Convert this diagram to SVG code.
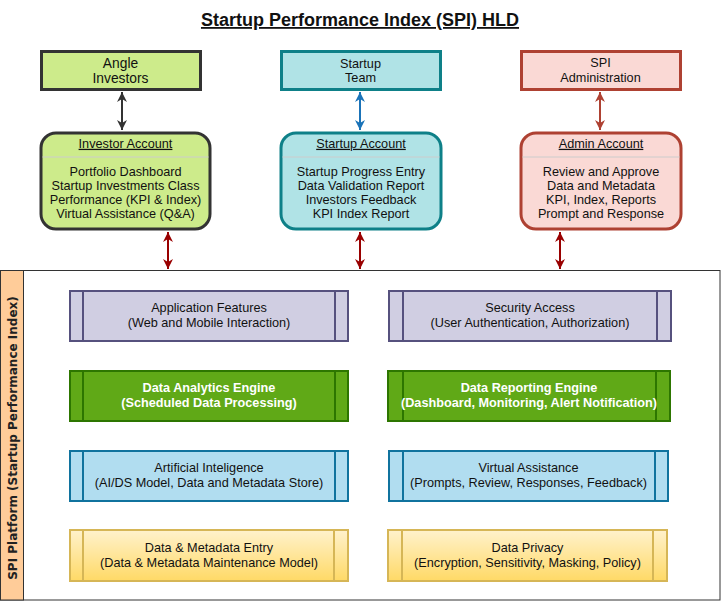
<svg xmlns="http://www.w3.org/2000/svg" width="721" height="601" viewBox="0 0 721 601">
<style>
text{font-family:"Liberation Sans",Arial,sans-serif;font-size:12.7px;fill:#111;text-anchor:middle}
.t13{font-size:13.8px}
.u{text-decoration:underline}
.w{fill:#fff;font-weight:bold}
.title{font-size:18px;font-weight:bold;text-decoration:underline}
.vlab{font-family:"DejaVu Sans",Verdana,sans-serif;font-size:12px;font-weight:bold;fill:#222}
.conn{fill:none;stroke-width:2}
.div{stroke:#cccccc;stroke-width:1}
.proc{stroke-width:2}
</style>
<defs>
<marker id="aDark" viewBox="0 0 10 10" refX="10" refY="5" markerWidth="10" markerHeight="10" markerUnits="userSpaceOnUse" orient="auto-start-reverse"><path d="M0,0 L10,5 L0,10 L3,5 z" fill="#333333"/></marker>
<marker id="aBlue" viewBox="0 0 10 10" refX="10" refY="5" markerWidth="10" markerHeight="10" markerUnits="userSpaceOnUse" orient="auto-start-reverse"><path d="M0,0 L10,5 L0,10 L3,5 z" fill="#1a73b8"/></marker>
<marker id="aRose" viewBox="0 0 10 10" refX="10" refY="5" markerWidth="10" markerHeight="10" markerUnits="userSpaceOnUse" orient="auto-start-reverse"><path d="M0,0 L10,5 L0,10 L3,5 z" fill="#ae4132"/></marker>
<marker id="aRed" viewBox="0 0 10 10" refX="10" refY="5" markerWidth="10" markerHeight="10" markerUnits="userSpaceOnUse" orient="auto-start-reverse"><path d="M0,0 L10,5 L0,10 L3,5 z" fill="#990000"/></marker>
<linearGradient id="gy" x1="0" y1="0" x2="0" y2="1"><stop offset="0" stop-color="#fff2cc"/><stop offset="1" stop-color="#ffd966"/></linearGradient>
</defs>
<rect width="721" height="601" fill="#ffffff"/>
<text class="title" x="360" y="26">Startup Performance Index (SPI) HLD</text>

<g id="platform">
<rect x="0.5" y="270.5" width="719.5" height="329.5" fill="#ffffff" stroke="#333333"/>
<rect x="0.5" y="270.5" width="23" height="329.5" fill="#ffcc99" stroke="#333333"/>
<text class="vlab" transform="translate(16.5,438) rotate(-90)" x="0" y="0">SPI Platform (Startup Performance Index)</text>
</g>

<g id="angle-investors">
<rect x="41.5" y="51.5" width="159" height="38" fill="#cdeb8b" stroke="#333333" stroke-width="3"/>
<text class="t13" x="120.5" y="67.5">Angle</text>
<text class="t13" x="120.5" y="83.2">Investors</text>
</g>
<g id="startup-team">
<rect x="281.5" y="51.5" width="159" height="38" fill="#b0e3e6" stroke="#0e8088" stroke-width="3"/>
<text x="360.5" y="67.8">Startup</text>
<text x="360.5" y="81.8">Team</text>
</g>
<g id="spi-administration">
<rect x="521.5" y="51.5" width="159" height="38" fill="#fad9d5" stroke="#ae4132" stroke-width="3"/>
<text x="600.5" y="67.2">SPI</text>
<text x="600.5" y="82.2">Administration</text>
</g>

<g id="investor-account">
<rect x="41" y="133" width="169" height="96" rx="15" fill="#cdeb8b" stroke="#333333" stroke-width="3"/>
<line class="div" x1="42.5" y1="157" x2="208.5" y2="157"/>
<text class="u" x="125.5" y="147.8">Investor Account</text>
<text x="125.5" y="176">Portfolio Dashboard</text>
<text x="125.5" y="190">Startup Investments Class</text>
<text x="125.5" y="204">Performance (KPI &amp; Index)</text>
<text x="125.5" y="218">Virtual Assistance (Q&amp;A)</text>
</g>
<g id="startup-account">
<rect x="281" y="133" width="160" height="96" rx="15" fill="#b0e3e6" stroke="#0e8088" stroke-width="3"/>
<line class="div" x1="282.5" y1="157" x2="439.5" y2="157"/>
<text class="u" x="361" y="147.8">Startup Account</text>
<text x="361" y="176">Startup Progress Entry</text>
<text x="361" y="190">Data Validation Report</text>
<text x="361" y="204">Investors Feedback</text>
<text x="361" y="218">KPI Index Report</text>
</g>
<g id="admin-account">
<rect x="521" y="133" width="160" height="96" rx="15" fill="#fad9d5" stroke="#ae4132" stroke-width="3"/>
<line class="div" x1="522.5" y1="157" x2="679.5" y2="157"/>
<text class="u" x="601" y="147.8">Admin Account</text>
<text x="601" y="176">Review and Approve</text>
<text x="601" y="190">Data and Metadata</text>
<text x="601" y="204">KPI, Index, Reports</text>
<text x="601" y="218">Prompt and Response</text>
</g>

<g id="application-features">
<rect class="proc" x="70" y="291" width="278" height="50" fill="#d0cee2" stroke="#56517e"/>
<line class="proc" x1="83" y1="291" x2="83" y2="341" stroke="#56517e"/>
<line class="proc" x1="335" y1="291" x2="335" y2="341" stroke="#56517e"/>
<text x="209" y="312">Application Features</text>
<text x="209" y="327">(Web and Mobile Interaction)</text>
</g>
<g id="security-access">
<rect class="proc" x="389" y="291" width="282" height="50" fill="#d0cee2" stroke="#56517e"/>
<line class="proc" x1="403" y1="291" x2="403" y2="341" stroke="#56517e"/>
<line class="proc" x1="657" y1="291" x2="657" y2="341" stroke="#56517e"/>
<text x="530" y="312">Security Access</text>
<text x="530" y="327">(User Authentication, Authorization)</text>
</g>
<g id="data-analytics-engine">
<rect class="proc" x="70" y="371" width="278" height="50" fill="#60a917" stroke="#2d7600"/>
<line class="proc" x1="83" y1="371" x2="83" y2="421" stroke="#2d7600"/>
<line class="proc" x1="335" y1="371" x2="335" y2="421" stroke="#2d7600"/>
<text class="w" x="209" y="392">Data Analytics Engine</text>
<text class="w" x="209" y="407">(Scheduled Data Processing)</text>
</g>
<g id="data-reporting-engine">
<rect class="proc" x="388" y="371" width="282" height="50" fill="#60a917" stroke="#2d7600"/>
<line class="proc" x1="403" y1="371" x2="403" y2="421" stroke="#2d7600"/>
<line class="proc" x1="656" y1="371" x2="656" y2="421" stroke="#2d7600"/>
<text class="w" x="529" y="392">Data Reporting Engine</text>
<text class="w" x="529" y="407">(Dashboard, Monitoring, Alert Notification)</text>
</g>
<g id="artificial-inteligence">
<rect class="proc" x="70" y="451" width="278" height="50" fill="#b1ddf0" stroke="#10739e"/>
<line class="proc" x1="83" y1="451" x2="83" y2="501" stroke="#10739e"/>
<line class="proc" x1="335" y1="451" x2="335" y2="501" stroke="#10739e"/>
<text x="209" y="472">Artificial Inteligence</text>
<text x="209" y="487">(AI/DS Model, Data and Metadata Store)</text>
</g>
<g id="virtual-assistance">
<rect class="proc" x="389" y="451" width="279" height="50" fill="#b1ddf0" stroke="#10739e"/>
<line class="proc" x1="403" y1="451" x2="403" y2="501" stroke="#10739e"/>
<line class="proc" x1="655" y1="451" x2="655" y2="501" stroke="#10739e"/>
<text x="528.5" y="472">Virtual Assistance</text>
<text x="528.5" y="487">(Prompts, Review, Responses, Feedback)</text>
</g>
<g id="data-metadata-entry">
<rect class="proc" x="70" y="530" width="278" height="51" fill="url(#gy)" stroke="#d6b656"/>
<line class="proc" x1="83" y1="530" x2="83" y2="581" stroke="#d6b656"/>
<line class="proc" x1="334" y1="530" x2="334" y2="581" stroke="#d6b656"/>
<text x="209" y="552">Data &amp; Metadata Entry</text>
<text x="209" y="567">(Data &amp; Metadata Maintenance Model)</text>
</g>
<g id="data-privacy">
<rect class="proc" x="388" y="530" width="279" height="51" fill="url(#gy)" stroke="#d6b656"/>
<line class="proc" x1="402" y1="530" x2="402" y2="581" stroke="#d6b656"/>
<line class="proc" x1="653" y1="530" x2="653" y2="581" stroke="#d6b656"/>
<text x="527.5" y="552">Data Privacy</text>
<text x="527.5" y="567">(Encryption,  Sensitivity, Masking, Policy)</text>
</g>

<g id="connectors">
<line class="conn" x1="122" y1="92" x2="122" y2="130" stroke="#333333" marker-start="url(#aDark)" marker-end="url(#aDark)"/>
<line class="conn" x1="360" y1="92" x2="360" y2="130" stroke="#1a73b8" marker-start="url(#aBlue)" marker-end="url(#aBlue)"/>
<line class="conn" x1="600" y1="92" x2="600" y2="130" stroke="#ae4132" marker-start="url(#aRose)" marker-end="url(#aRose)"/>
<line class="conn" x1="168" y1="232" x2="168" y2="269" stroke="#990000" marker-start="url(#aRed)" marker-end="url(#aRed)"/>
<line class="conn" x1="360" y1="232" x2="360" y2="269" stroke="#990000" marker-start="url(#aRed)" marker-end="url(#aRed)"/>
<line class="conn" x1="560" y1="232" x2="560" y2="269" stroke="#990000" marker-start="url(#aRed)" marker-end="url(#aRed)"/>
</g>
</svg>
